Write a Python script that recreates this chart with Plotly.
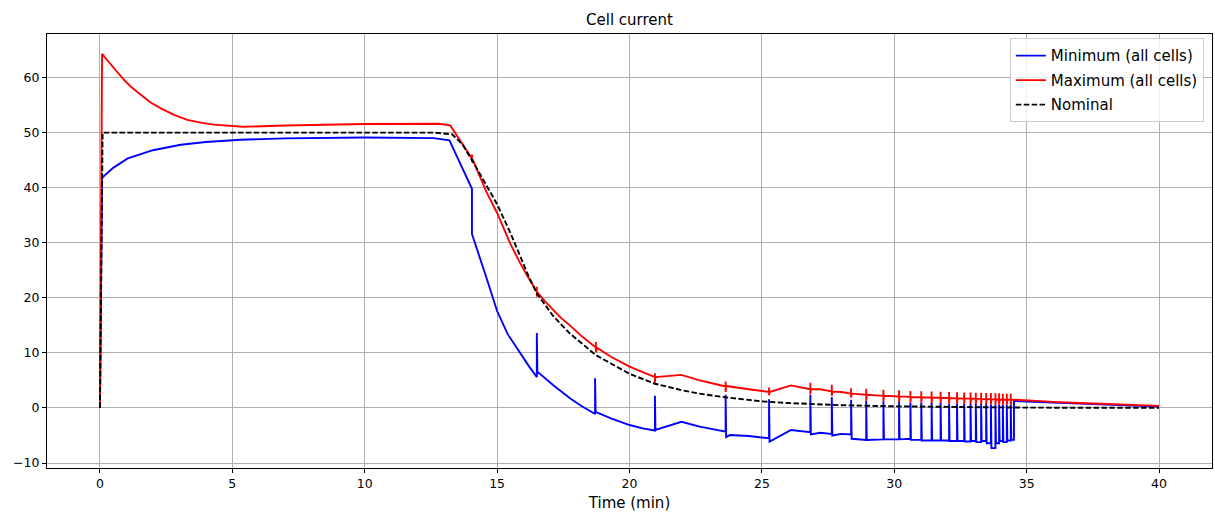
import plotly.graph_objects as go

# ---- data ----
t_min = [0, 0.08, 0.5, 1.05, 2.0, 3.05, 4.0, 5.3, 7.0, 10.0, 12.6, 13.2,
         14.05, 14.05, 14.6, 15.0, 15.4, 15.87, 16.2,
         16.5, 16.5, 16.52, 17.1, 17.75, 18.2,
         18.7, 18.7, 18.72, 19.3, 20.0, 20.5,
         20.96, 20.96, 20.98, 21.96, 22.65,
         23.63, 23.63, 23.65, 23.8, 24.5,
         25.27, 25.27, 25.29, 26.1,
         26.83, 26.83, 26.85, 27.2,
         27.64, 27.64, 27.66, 28.0,
         28.37, 28.37, 28.39,
         28.94, 28.94, 28.96,
         29.59, 29.59, 29.61,
         30.18, 30.18, 30.20,
         30.61, 30.61, 30.63,
         31.02, 31.02, 31.04,
         31.41, 31.41, 31.43,
         31.75, 31.75, 31.77,
         32.07, 32.07, 32.09,
         32.37, 32.37, 32.39,
         32.64, 32.64, 32.66,
         32.88, 32.88, 32.90,
         33.08, 33.08, 33.10,
         33.28, 33.28, 33.30,
         33.47, 33.47, 33.49,
         33.65, 33.65, 33.67,
         33.82, 33.82, 33.84,
         33.96, 33.96, 33.98,
         34.10, 34.10, 34.12,
         34.25, 34.25, 34.27,
         34.40, 34.40, 34.42,
         34.52, 34.52, 35.0, 36.0, 37.0, 38.0, 39.0, 40.0]
v_min = [0, 41.8, 43.6, 45.3, 46.8, 47.8, 48.3, 48.7, 48.95, 49.1, 49.0, 48.6,
         39.8, 31.6, 23.6, 17.6, 13.4, 9.9, 7.6,
         5.6, 13.6, 6.6, 4.2, 1.75, 0.3,
         -1.1, 5.4, -0.7, -1.9, -3.1, -3.7,
         -4.1, 2.2, -4.0, -2.5, -3.4,
         -4.3, 2.4, -5.3, -4.9, -5.1,
         -5.5, 1.6, -6.1, -4.0,
         -4.4, 2.4, -4.8, -4.5,
         -4.7, 2.0, -5.0, -4.7,
         -4.8, 1.5, -5.6,
         -5.8, 1.3, -5.8,
         -5.7, 1.2, -5.7,
         -5.7, 1.1, -5.7,
         -5.6, 1.0, -5.8,
         -5.8, 1.0, -5.9,
         -5.9, 0.9, -5.9,
         -5.9, 0.9, -5.9,
         -5.9, 0.8, -6.0,
         -6.0, 0.8, -6.0,
         -6.0, 0.8, -6.1,
         -6.1, 0.7, -6.0,
         -6.0, 0.7, -6.2,
         -6.2, 0.7, -6.0,
         -6.0, 0.7, -6.4,
         -6.4, 0.6, -7.3,
         -7.3, 0.6, -6.4,
         -6.4, 0.6, -6.0,
         -6.0, 0.6, -6.2,
         -6.2, 0.6, -5.9,
         -5.9, 0.6, -5.8,
         -5.8, 1.3, 1.15, 0.95, 0.75, 0.55, 0.4, 0.25]

t_max = [0, 0.08, 0.3, 0.6, 0.9, 1.2, 1.55, 1.9, 2.3, 2.8, 3.3, 3.8, 4.3, 5.4, 7.0, 10.0, 12.8, 13.23,
         14.05, 14.05, 14.05, 14.07, 14.6, 15.0, 15.5, 15.87, 16.2,
         16.5, 16.5, 16.5, 16.52, 16.8, 17.1, 17.4, 17.75, 18.2,
         18.73, 18.73, 18.73, 18.75, 19.3, 19.7, 20.0, 20.5,
         20.96, 20.96, 20.96, 20.98, 21.96, 22.65, 23.2,
         23.63, 23.63, 23.63, 23.65, 24.5,
         25.27, 25.27, 25.27, 25.29, 26.1,
         26.83, 26.83, 26.83, 26.85, 27.2,
         27.64, 27.64, 27.64, 27.66, 28.0,
         28.37, 28.37, 28.37, 28.39,
         28.94, 28.94, 28.94, 28.96,
         29.59, 29.59, 29.59, 29.61,
         30.18, 30.18, 30.18, 30.20,
         30.61, 30.61, 30.61, 30.63,
         31.02, 31.02, 31.02, 31.04,
         31.41, 31.41, 31.41, 31.43,
         31.75, 31.75, 31.75, 31.77,
         32.07, 32.07, 32.07, 32.09,
         32.37, 32.37, 32.37, 32.39,
         32.64, 32.64, 32.64, 32.66,
         32.88, 32.88, 32.88, 32.90,
         33.08, 33.08, 33.08, 33.10,
         33.28, 33.28, 33.28, 33.30,
         33.47, 33.47, 33.47, 33.49,
         33.65, 33.65, 33.65, 33.67,
         33.82, 33.82, 33.82, 33.84,
         33.96, 33.96, 33.96, 33.98,
         34.10, 34.10, 34.10, 34.12,
         34.25, 34.25, 34.25, 34.27,
         34.40, 34.40, 34.40, 34.42,
         34.52, 35.0, 36.0, 37.0, 38.0, 39.0, 40.0]
v_max = [0, 64.3, 63.0, 61.2, 59.6, 58.2, 56.8, 55.5, 54.4, 53.2, 52.3, 51.8, 51.45, 51.05, 51.3, 51.55, 51.6, 51.3,
         45.3, 46.0, 44.6, 45.2, 39.2, 35.4, 29.8, 26.3, 23.5,
         21.1, 22.0, 20.2, 21.0, 19.4, 17.9, 16.4, 15.0, 13.0,
         11.0, 12.0, 10.1, 11.0, 9.3, 8.3, 7.5, 6.5,
         5.6, 6.3, 4.6, 5.6, 6.0, 5.0, 4.4,
         3.9, 4.8, 2.9, 4.0, 3.4,
         2.9, 3.7, 2.3, 2.9, 4.1,
         3.4, 4.6, 2.5, 3.4, 3.4,
         3.0, 4.2, 2.2, 3.0, 2.9,
         2.6, 3.6, 1.9, 2.6,
         2.4, 3.5, 1.3, 2.4,
         2.2, 3.3, 1.2, 2.2,
         2.1, 3.2, 1.1, 2.1,
         2.0, 3.1, 1.0, 2.0,
         1.95, 3.05, 1.0, 1.95,
         1.9, 3.0, 0.9, 1.9,
         1.85, 2.95, 0.9, 1.85,
         1.8, 2.9, 0.8, 1.8,
         1.75, 2.85, 0.8, 1.75,
         1.7, 2.8, 0.8, 1.7,
         1.7, 2.8, 0.7, 1.7,
         1.65, 2.75, 0.7, 1.65,
         1.65, 2.75, 0.7, 1.65,
         1.6, 2.7, 0.7, 1.6,
         1.6, 2.7, 0.6, 1.6,
         1.55, 2.65, 0.6, 1.55,
         1.55, 2.65, 0.6, 1.55,
         1.5, 2.6, 0.6, 1.5,
         1.5, 2.6, 0.6, 1.5,
         1.5, 2.6, 0.6, 1.5,
         1.5, 1.35, 1.1, 0.9, 0.7, 0.52, 0.38]

t_nom = [0, 0.1, 5, 10, 12.6, 13.3, 13.7, 14.1, 14.6, 15.0, 15.5, 15.87, 16.2, 16.5, 17.1,
         17.75, 18.73, 20.0, 20.96, 22.0, 22.65, 23.67, 25.0, 26.0, 27.0, 28.0,
         30.0, 32.0, 35.0, 40.0]
v_nom = [0, 50.0, 50.0, 50.0, 50.0, 49.7, 47.8, 44.6, 40.5, 37.0, 31.8, 27.6, 23.8, 20.8, 16.8,
         13.5, 9.6, 6.2, 4.4, 3.2, 2.6, 1.9, 1.2, 0.9, 0.65, 0.5,
         0.3, 0.15, 0.06, 0.02]

x_ticks = [0, 5, 10, 15, 20, 25, 30, 35, 40]
y_ticks = [-10, 0, 10, 20, 30, 40, 50, 60]

FONT = "DejaVu Sans"
W, H = 1215, 512
L, R, T, B = 47, 3, 34, 44

fig = go.Figure()
fig.add_trace(go.Scatter(x=t_min, y=v_min, mode="lines", name="Minimum (all cells)",
                         legendgroup="a", line=dict(color="#0000ff", width=1.9)))
fig.add_trace(go.Scatter(x=t_max, y=v_max, mode="lines", name="Maximum (all cells)",
                         legendgroup="b", line=dict(color="#ff0000", width=1.9)))
fig.add_trace(go.Scatter(x=t_nom, y=v_nom, mode="lines", name="Nominal",
                         legendgroup="c", line=dict(color="#000000", width=1.9, dash="5.5px,2.4px")))

axis_common = dict(showgrid=True, gridcolor="#b0b0b0", gridwidth=1,
                   showline=True, linecolor="black", linewidth=1, mirror=True,
                   ticks="outside", ticklen=4, tickcolor="black", tickwidth=1,
                   tickfont=dict(family=FONT, size=12.5, color="black"),
                   zeroline=False)

fig.update_layout(
    width=W, height=H,
    margin=dict(l=L, r=R, t=T, b=B),
    paper_bgcolor="white", plot_bgcolor="white",
    font=dict(family=FONT, color="black"),
    title=dict(text="Cell current", x=0.5, xref="paper", xanchor="center",
               y=1 - 20 / H, yref="container", yanchor="middle",
               font=dict(family=FONT, size=15, color="black")),
    xaxis=dict(range=[-2, 42], tickvals=x_ticks,
               title=dict(text="Time (min)", font=dict(family=FONT, size=15, color="black"), standoff=7),
               **axis_common),
    yaxis=dict(range=[-10.9, 67.9], tickvals=y_ticks, **axis_common),
    legend=dict(x=0.993, y=0.99, xanchor="right", yanchor="top",
                bgcolor="rgba(255,255,255,0.8)", bordercolor="#cccccc", borderwidth=1,
                font=dict(family=FONT, size=15, color="black"), itemwidth=30,
                tracegroupgap=2),
    showlegend=True,
)

fig.write_html("out.html")
